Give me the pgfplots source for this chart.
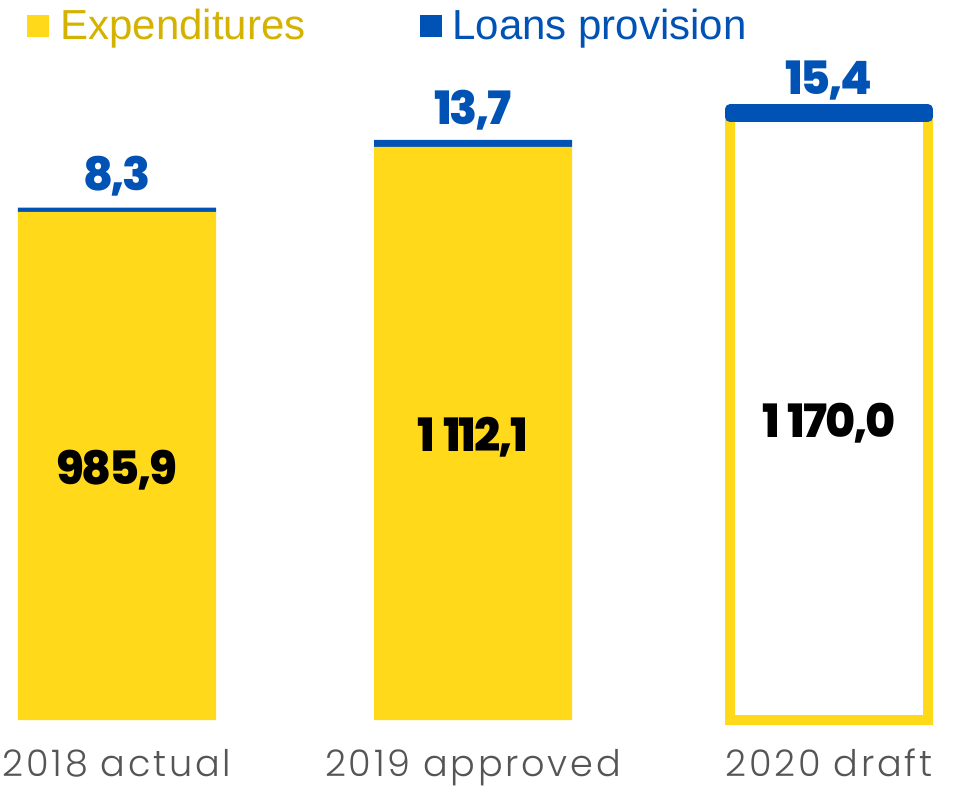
\documentclass[border=0pt]{standalone}
\usepackage{pgfplots}
\pgfplotsset{compat=1.18}
\usepackage{pgfplotstable}
\usepackage{fontspec}
\setmainfont{Liberation Sans}
\newfontfamily\tickfont[LetterSpace=7.5]{Poppins Light}
\newfontfamily\numfont[LetterSpace=-5]{Poppins ExtraBold}
\definecolor{yel}{HTML}{FFD91A}
\definecolor{yeltxt}{HTML}{D6B200}
\definecolor{blu}{HTML}{0052B4}
\definecolor{tickgray}{HTML}{555555}

\pgfplotstableread{
x exp loans explab loanlab
0 985.9 8.3 {985,9} {8,3}
1 1112.1 13.7 {1\,112,1} {13,7}
}\tabA
\pgfplotstableread{
x exp loans explab loanlab
2 1170.0 15.4 {1\,170,0} {15,4}
}\tabB

\pgfplotsset{
  base/.style={scale only axis, width=479.5pt, height=360pt,
    at={(0pt,34.5pt)}, anchor=south west,
    xmin=-0.32865, xmax=2.36517, ymin=0, ymax=1397.3, clip=false},
  toplab/.style={nodes near coords, point meta=explicit symbolic,
    nodes near coords align={anchor=base},
    every node near coord/.append style={anchor=base, yshift=9.5pt, text=blu,
      font=\numfont\fontsize{23}{23}\selectfont}},
  midlab/.style={nodes near coords, point meta=explicit symbolic,
    nodes near coords align={anchor=base},
    every node near coord/.append style={anchor=base, yshift=-9.25pt, text=black,
      font=\numfont\fontsize{23}{23}\selectfont}},
}

\begin{document}
\begin{tikzpicture}
\useasboundingbox (0,0) rectangle (479.5pt,394.5pt);
% bars 2018 and 2019
\begin{axis}[base, ybar stacked, bar width=99pt,
  axis line style={draw=none}, major tick length=0pt,
  ytick=\empty, xtick={0,1,2},
  xticklabels={2018 actual, 2019 approved, 2020 draft},
  xticklabel style={font=\tickfont\fontsize{18.3}{18.3}\selectfont, text=tickgray,
    anchor=base, yshift=-28.3pt},
  legend columns=2,
  legend image code/.code={\path[#1, draw=none] (0pt,-5.5pt) rectangle (11pt,5.5pt);},
  legend style={draw=none, fill=none, inner sep=0pt, column sep=0pt,
    nodes={inner sep=0pt},
    at={(rel axis cs:0.02815,1)}, anchor=north west, yshift=-4.5pt,
    font=\fontsize{21}{25}\selectfont,
    /tikz/every odd column/.append style={column sep=5.5pt},
    /tikz/every even column/.append style={column sep=57pt}},
]
\addplot[fill=yel, draw=none] table[x=x, y=exp]{\tabA};
\addlegendentry{\textcolor{yeltxt}{Expenditures}}
\addplot[fill=blu, draw=none, toplab] table[x=x, y=loans, meta=loanlab]{\tabA};
\addlegendentry{\textcolor{blu}{Loans provision}}
\end{axis}
% bar 2020
\begin{axis}[base, ybar stacked, reverse stacked plots=false, bar width=99pt, hide axis]
\addplot[fill=white, draw=yel, line width=5pt] table[x=x, y=exp]{\tabB};
\addplot[fill=blu, draw=blu, line width=5pt, line join=round, toplab] table[x=x, y=loans, meta=loanlab]{\tabB};
\end{axis}
% labels inside bars
\begin{axis}[base, ybar, bar width=99pt, bar shift=0pt, hide axis]
\addplot[draw=none, fill=none, midlab] table[x=x, y expr=\thisrow{exp}/2, meta=explab]{\tabA};
\addplot[draw=none, fill=none, midlab] table[x=x, y expr=\thisrow{exp}/2, meta=explab]{\tabB};
\end{axis}
\end{tikzpicture}
\end{document}
